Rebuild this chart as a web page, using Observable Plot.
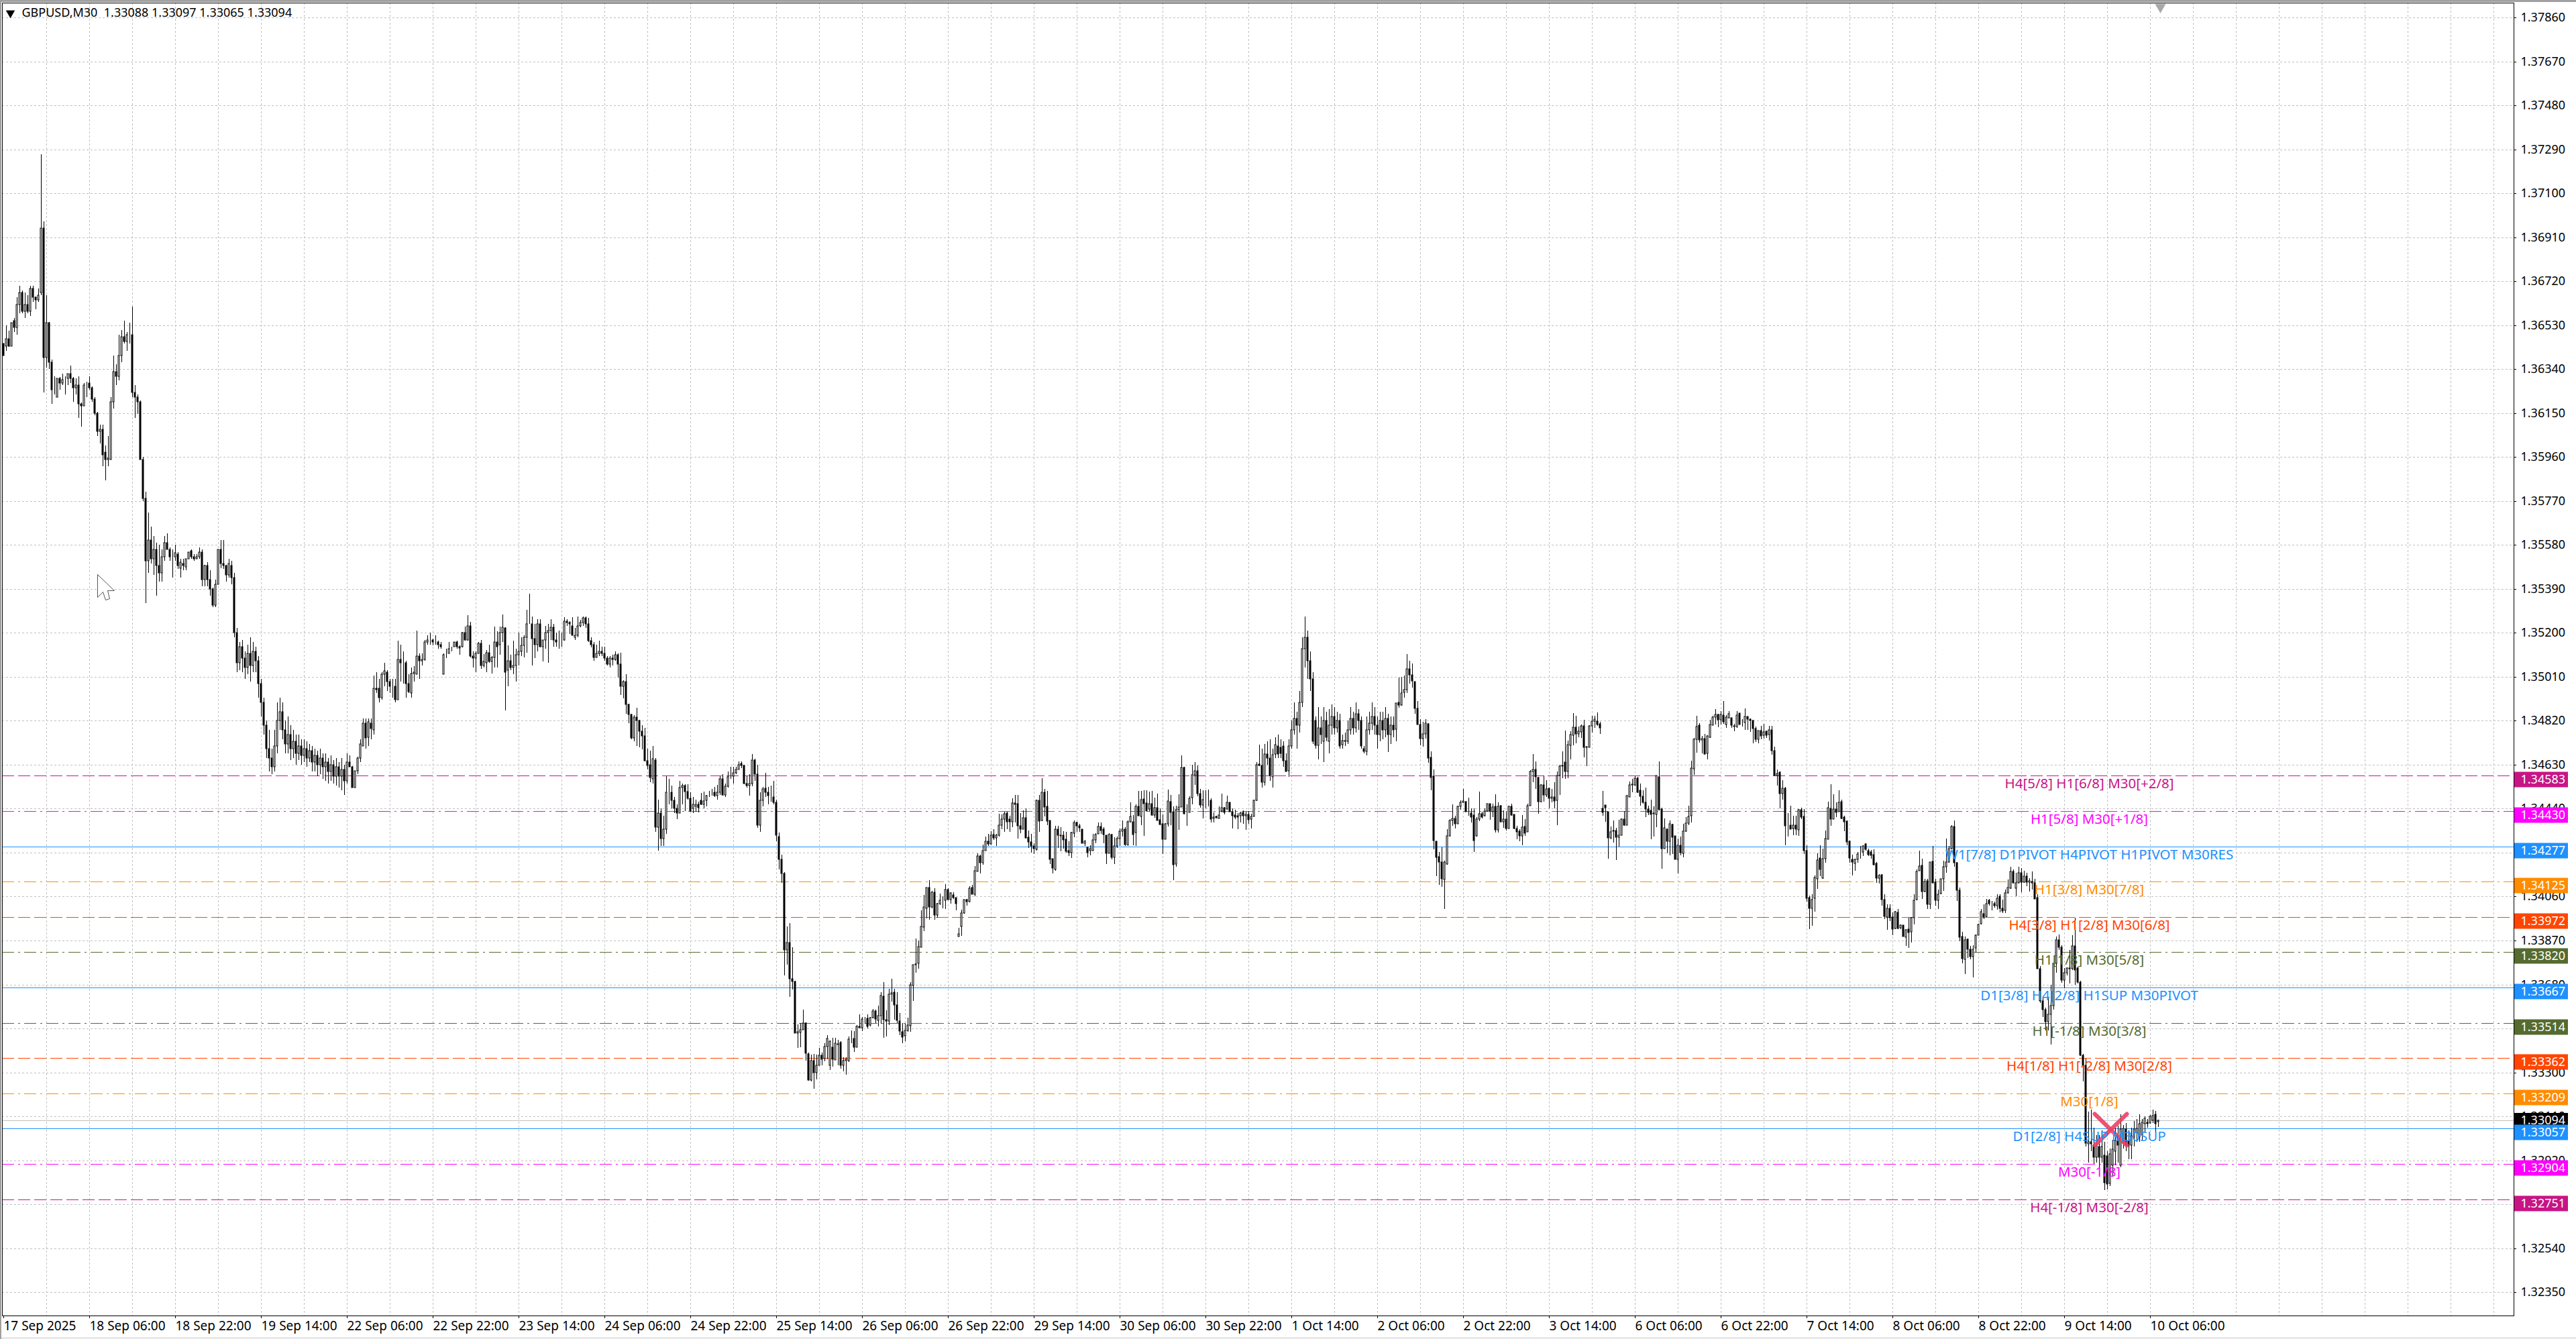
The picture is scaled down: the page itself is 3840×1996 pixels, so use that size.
<!DOCTYPE html>
<html><head><meta charset="utf-8">
<script src="https://cdn.jsdelivr.net/npm/d3@7"></script>
<script src="https://cdn.jsdelivr.net/npm/@observablehq/plot@0.6"></script>
<style>
html,body{margin:0;padding:0;overflow:hidden;width:3840px;height:1996px;
background:linear-gradient(#a0a0a0,#a0a0a0) 0 0/100% 3px no-repeat,linear-gradient(#a0a0a0,#a0a0a0) 0 0/2px 100% no-repeat,linear-gradient(#e8e8e8,#e8e8e8) 0 100%/100% 3px no-repeat,#fff}
svg{display:block}
</style></head><body>
<script>
// Bars as [open, high, low, close], in pips above basePrice
const basePrice = 1.3;
const barsPart1 = [[645,645,640,640],[644,653,642,647],[647,650.5,643.6,644],[644,654,644,654],[655,656,650,652],[652,665,649,662],[662,670,658,667],[667,668,658,659],[659,667,656,662],[662,666,658,659],[659,670,657,669],[669,670,663,665],[665,665.5,660,664],[664,669,663,666],[667,727,666,695],[695,698,624,639],[639,666,634.6,654],[654,654.5,634,637],[637,638,619,625],[625,631,623,625],[622,630,622,630],[630,630.5,625,628],[628,632,627,629.5],[629,631,623,629],[630,632,627,632],[632,635.6,628,630],[630,630.5,620,626],[626,630,623,627],[627,631,613,619],[619,619.5,609,618],[618,628,618,627],[628,628.5,622,628],[628,631,625,626],[626,626.5,620,621],[621,622,614,615],[615,615.5,605,607],[607,610,602,608],[608,610,592,597],[598,601,586,595],[595,605,592,595.5],[595,622,595,620],[620,640,617,633],[633,636,627,631],[631,649,629,640],[640,651,637,648],[648,655,645,646],[646,650,642,649],[649,654,645,649],[649,661,622,624],[624,627,613,622],[622,623,614.5,620],[620,620.5,595,595],[595,596,577,578],[578,581,533,551],[551,572,546,560],[560,566,550,552],[552,562,545,556],[556,559,536,549],[549,558,542,546],[546,556,542,553],[553,562,551,559],[559,563,556,556],[556,557,551,553],[553,556,544,553],[553,558,551,554.5],[554,555,547.6,549],[548,552,544,550.5],[550,552,547,549],[548.5,552,547,552],[552,555,552,555],[555.5,556,552,553],[553,554,551,552],[552,554,552,553],[553,557,552,555],[555,556,540,543],[543,549.5,540,549],[549,550.6,540,543],[543,547,536,539],[539,539.5,531,532],[532,543,531,541],[541,556,541,556],[556,560,548,550],[550,560,547.6,549],[549,549.5,542,545],[545,552,544,550],[549,551,541,544],[544,546,518,520],[520,522,503,507],[507,516,504,514],[514,517,503,509],[509,512,500,505],[505,515,502,511],[511,518,499,506],[506,516,503,512],[512,514,503,508],[508,510,492,498],[498,500,484,490],[490,492,476,480],[480,482,466,470],[470,478,460,466],[466,470,459,462],[462,478,460,471],[471,490,468,482],[482,492,478,486],[486,490,474,478],[478,482,468,472],[472,484,468,476],[476,480,465,470],[470,478,466,473],[473,476,463,468],[468,476,465,471],[471,474,463,467],[467,474,464,470],[470,473,462,466],[466,472,464,469],[469,471,460,464],[464,470,460,467],[467,469,458,463],[463,470,459,466],[466,468,457,462],[462,468,456,464],[464,466,455,460],[460,467,456,463],[463,465,455,458],[458,466,454,462],[462,464,453,458],[458,466,452,461],[461,463,450,456],[456,468,455,464]];
const barsPart2 = [[464,467,462,462],[462,462.5,453,453],[453,460.5,453,460.5],[460.5,466.5,459,466],[466,474,464,472],[471,483,471,481],[481,483,470,474.5],[475,483,471,481.5],[481,483,474,478.5],[478,501.6,476,496],[496,503,494,495.5],[496,500,490,492],[492,503,491,502],[502,507,497,503.5],[503,504,495,499],[499,500,494,497],[497,500,492,497],[497,500,490,491],[491,516.5,491,508.5],[508.5,515,499,507],[507,512,498,507],[507,508,492,498],[498,502,494,494.5],[494,505,492,502.5],[502.5,505.7,499,503],[502,521,502,510],[510,511,500,508],[508,511,506,508.5],[508.5,517,508,516],[516,519,515,517],[517,520,515,517],[517,517.5,514.6,516],[516,519,515,516],[516,516.5,513,515],[515,516,513,514],[502,511,502,510.5],[510.5,513,509,510.5],[511,516,511,513],[513,514,512,513],[514,516,514,516],[516,516.5,513,514],[514,514.5,510.5,513.5],[514,520.5,513.6,520],[520,522.6,516.5,517],[517,527.5,516.5,523],[523,524.6,509.5,510],[510,512,505,509],[509,512,503,511],[511,516,511,515.5],[515.5,517,504.4,506],[506,510.7,505,507.5],[507,512.5,503,511.5],[511.5,515,507,507.5],[507.5,510,502.5,509.5],[509.5,522.6,505,516],[516,520.7,505,514],[515,522.8,510.5,520],[520,528,516,522.5],[522,522.5,486.6,503],[504,514.6,497,508],[508,510.5,504,505],[505,516.5,502,506],[506,513,499,510.5],[510.5,520,506,512],[512,518,510,514.5],[514.5,519,509.5,518],[518,530,511.5,524],[524,537,524,524],[524,527,506,517.5],[517.5,524,509,515],[515,526,512,524],[524,526,513.6,514],[514,517,507.5,517],[517,523,513,520],[520,524,507,521],[521,526,517,522.5],[522.5,524,514,517],[517,520,514,516],[516,521,513,516],[517,520,514,517],[517,526.7,516.5,525],[525,526,523,524.5],[524.5,525,519.5,524],[523,526.8,519,519],[518,522,517,519],[519,527,518,523],[523,525.5,522.5,524.5],[524.5,527,523,526.5],[526.5,527,522,524],[524,526.5,516,516.5],[516.5,518,513.6,515],[515,516,508,509.5],[509.5,515,509.5,511],[511,516.5,510,512],[512,514,510,511],[511,514,508,509],[509,510,506,506.5],[506.5,510,505,509],[509,510.5,506,508.5],[508.5,512,508,510.5],[510.5,511,500.6,506.5],[506.5,511.5,493,497],[497,499.6,491.6,499],[499,502,485,489],[489,489.5,481,484.6],[484.6,485,474,474.5],[474.5,484.4,473,483.5],[483.5,487.7,471,482],[482,482.5,470.6,477.6],[477.6,480,469.7,475.5],[475.5,479,464.5,464.6],[464.6,470,461,462.6],[463,469,455.4,457.5],[457,471,455,465.6],[465,466,434,436],[436,448,426,442],[442,444,428,431],[431,441,428,435],[435,458,433,451],[451,457,446,451],[451,454,444,447.5],[447.5,449,442,444],[444,446,439.5,442],[442,456,442,453],[453,455,446,454],[454,454.5,443,451.5],[451.5,454.7,448,448.5],[448.5,451,442.6,443],[444,449,442,446],[445,448,442.6,446]];
const barsPart3 = [[446,447,442.4,444.5],[447.7,450.7,445.7,446],[446,451.5,444,447.4],[447.5,450,445,449.6],[450,451.7,449,450],[451,452.6,449.6,451],[451,453.5,449,449.5],[449.6,454.4,448,451],[451,458,450,457],[457,459,449.5,450],[450,455,449,453.7],[453.7,460,453,457.8],[458,462,457,458],[458,462,455,459.5],[459.5,462,459,461],[461,464.3,461,463],[463.6,464.5,461.5,462.6],[462.8,463,454.7,455],[455,458,453,454],[454,459,449.5,455],[455,467.5,453.6,465],[465,465.5,456,459],[459,463,435.8,437],[437,451,434,447.6],[447.6,453.5,445,452.4],[452.7,459.5,449,451],[451,453.5,446,449.5],[449.6,454,447,449.6],[449,456,446,446.6],[446.6,448,430,432.4],[432,433.6,417.8,422],[422,424,412,416],[416,416.5,372,383],[383,393,376.5,386],[386,394.5,362.7,370.6],[370.6,384,365.7,369.4],[369.4,369.6,347,347],[347,350.7,340.6,347.5],[347.4,351.4,341,348.4],[348.4,357,348.4,351.4],[351.4,351.5,335,338.4],[338,338.5,326.3,326.8],[326.6,337.6,326,335],[335,338,323,330],[330,337.6,327,333],[333,340.6,333,337.4],[337.4,338.6,333,335.8],[336,342.5,334.7,341.3],[341.3,346,335.7,344.7],[333,343.8,331,343.5],[341,345,332.5,335.7],[335.5,345,335.5,342.5],[342.4,344,333,342],[343,343.5,331.7,333],[333,336.6,330.4,335],[335,336.6,329,335.7],[335,345.5,334.4,344.4],[344.7,348,342.5,344.7],[344.8,347.8,339,341],[341,350.6,341,350],[350,355.2,349.4,349.4],[349.2,353.9,347.8,353.2],[353.6,354,351,353.6],[353.4,355.2,349,350],[350.4,354,350,353.6],[353.6,357.3,353.4,356.6],[356.6,357,351.4,353.2],[352.6,358.8,350,354.6],[354.6,364.7,351,363.2],[363,369,345,352.9],[352.9,356.8,345.5,352.2],[352.2,366,350.4,363.9],[363.9,370.6,360.7,364.5],[364.7,366,352.9,359.3],[359.3,364.7,351.4,352.6],[352.2,355.6,346,347.8],[347.7,351.4,342.5,345.3],[345.8,351,343.5,348.2],[348,353.6,347.5,350.4],[350.3,369,347.5,368],[367.6,376.7,361,376.7],[376.9,388,373,376.5],[377,387,374.7,384.3],[384,400,384,393],[392.7,406.8,391,401.4],[401,410,396.6,410],[410,413,396,401.5],[401.5,408.6,401,408],[408,409.7,396,398],[398,403.2,397,403],[403,407.4,402.5,404.3],[404.5,406,401,404.5],[404.3,411.4,400.6,409],[409,409.7,404.5,404.7],[404.8,408,403,407.6],[406.8,408,405,405.5],[405.5,405.5,400,403],[388.8,392.4,388.8,390],[393,400.3,389,399],[399,404.8,398.6,404.6],[404.7,405,402,403.7],[403.8,410.4,403.5,409.5],[410,411,407,407],[407,419.2,406,417.3],[417,424.8,417,423.5],[423.5,424,416,420.5],[420.5,428.6,419.7,426],[426,432,426,430],[430,433,428,428.8],[428.9,434.3,428.5,432.5],[432.8,435,430.5,431.5],[431.5,433,428,432.5],[432.5,441.7,432,437],[437,441.4,435,439.6],[439.4,442.8,434,441.8],[442,442.8,435,438.2],[439.6,441,434,438.2],[438.4,448.6,436,446.5],[446.5,450,438,446],[446.3,450,431,436.5],[436.6,442,433.5,435],[435.2,443.3,435,440],[440,444,431,431.5],[431.7,434.5,427,429.6],[429.6,433,425,428],[427.8,429,424.4,426.6],[426.3,447.8,425.8,447.6],[447.6,450,434,438.7],[438.9,457.3,438.7,451],[451.2,452.4,440.6,444.6]];
const barsPart4 = [[445,451.7,437,438.5],[438.9,438.9,420,422.1],[422.4,422.4,416,418.3],[417.8,436.5,417.3,435.2],[435.2,436.5,427,432.4],[432.6,436,425.5,432.1],[432.6,434.2,426.8,430.4],[430.9,434,424.9,425.6],[426,430,423.4,424.9],[424.9,434,422.7,433.8],[433.3,439,431.6,438.1],[438,438.4,433.9,436.5],[436.7,437.4,433.9,435.8],[435.2,435.2,429,429],[429,430.6,428,429.8],[427.3,427.6,423,425],[425.8,428.2,423.7,426.8],[425.8,433,425.8,430.4],[430.4,433.3,429,432.9],[433,437.9,433,436.3],[436.3,437.9,433,434.5],[435.2,436,429,432.8],[432.5,432.5,420,424.6],[424.6,433.3,424.6,432.8],[432.8,433,422.2,423.1],[423.1,431.6,420.2,427.8],[427.8,432,427,431.2],[431.2,435.5,428,434.3],[434.4,439,432,435.2],[435.2,436,428,428.4],[428.6,439,428,438.4],[438.4,446.8,438,440.6],[438.3,441.3,428.2,432.9],[433.6,446,428,445],[445,451.7,440.8,440.8],[440.6,451.7,437,448],[448.3,452,432.1,446.3],[446.4,452,443,443],[443.7,451.5,442.8,446.2],[446.2,451.7,440.8,441.3],[441.3,448.8,440,444.4],[444.4,450.5,438.9,439],[439.3,444,437,437.3],[437.4,441.6,424.4,430.9],[430.7,437.7,430.7,437.4],[437.4,452.3,436.2,447.3],[447.1,450,437,442.3],[442.8,445,413,419.8],[420,445.3,419,443.6],[443.6,450.3,434.8,444.7],[444.7,467,444.7,461.8],[461.8,462,441.5,441.8],[442.3,446,436.5,442.3],[442.5,449.3,442.5,448.4],[448.8,462.9,446,458.6],[458.7,464,454.2,460.4],[460.4,462.6,449.3,450.5],[450.5,452.4,444.5,445.5],[445.5,452,439.9,448],[448.6,452,444,448.4],[448.6,452.3,445,448.6],[447.7,448.4,438,439.4],[439.7,442.3,438,440.4],[440.7,441,439.8,440.2],[439.7,445,439.7,441.3],[442.9,450.5,442.3,444.4],[444.4,444.7,441.6,442.5],[443.7,449.7,443.5,446.6],[446.8,446.8,442.6,442.8],[442.8,444,435.5,441],[441.3,443.5,439.4,440.5],[441,442,435,440.5],[440.8,442.6,438.1,442.2],[442.3,443.3,437.4,440.8],[440.8,442.8,434.8,441.5],[441.6,443,437.4,439.1],[439.4,441.8,435.3,440.6],[440.6,447.8,440.6,447.6],[447.6,464,447.4,462.9],[463.3,471.8,462.3,462.6],[462.8,470,453,455.5],[455.3,472,454,467.6],[467.7,473,463,465.8],[466,474,456,458.3],[457.8,470,453,467.4],[467.7,475,466,471.6],[471,476,466,467.6],[470.6,474,466,468],[471,473,462,464.7],[464.7,468,460,460.2],[460.4,474,457.8,471.2],[471,482,470,478],[478,490,476,483],[483,486,470,480],[480,495,477,490],[490,518,488,513],[513,527,505,518],[518,521,500,508],[508,512,495,500],[500,503,472,473],[482,484,470,471.5],[471.5,488,465.3,479],[479,484,472,476],[473,488,464,482],[482,486,473,475],[473,487,468,480],[480,489,476,484],[484,488,476,479],[479,486,477,482],[482,485,470,471],[471.6,476,470,473.3],[473,477,471,473.5],[473,482,472,478],[478,488,476,483],[483,486,476,479],[479,490,477,485],[485,487,478,482],[482,484,470,471],[470,471,468,468.7],[468.7,484,467,478],[478,486,476,481],[481,490,478,484],[484,488,476,480],[480,484,470,476],[476,486,473,482],[482,486,474,478],[478,488,475,483],[483,485,468.4,476],[476,484,472,480],[480,484,475,478]];
const barsPart5 = [[478.3,489.7,473,489.7],[490,500.8,487.5,488.7],[488.7,501,488.5,494],[494.3,501.6,492,495.5],[495.5,510.7,494,504.5],[504.5,508,498,501.8],[501.8,506.7,496.2,499.2],[499,499,485,487.3],[487.3,490.4,480.3,480.3],[480.3,482.7,471.3,474.2],[474.2,481.5,470.8,476.2],[476.2,482.7,474.2,481],[480.8,481,463.9,465.8],[466.2,468.9,451.9,457.5],[458,461,426.3,430.2],[429.9,430,414.7,422.9],[423.2,425.3,411,420.8],[421,427.3,410.3,413.7],[413.5,421.5,400.5,421],[420.2,435,419.7,432.1],[432.1,439.4,431.9,438.9],[438.9,446,436.5,439.8],[439.9,440.8,435.5,437.6],[437.6,445.4,437.6,445.1],[445.1,447.6,443.5,446.6],[446.6,452.4,446.4,447.4],[447,447.4,442.6,442.8],[442.3,448.8,440.8,442.3],[442,444,438,440.5],[441.3,444,425.2,430.2],[432.1,440.3,431.9,439.6],[439.6,451.5,438.7,441.8],[441.8,442.8,439.7,440.5],[440.8,444,440.6,443],[443,446.2,442.8,446.2],[446.2,446.2,439.1,443],[442.8,446.2,440.5,444.7],[444.9,450.3,433.6,434.8],[434.9,446.8,433.8,445],[445.2,445.7,438.1,438.4],[438.4,443.3,435.8,439.6],[439.6,443,434.5,435.5],[435.5,445.4,435.5,444.9],[444.9,446.2,440.8,441.3],[441.5,441.5,435,435.3],[435.5,436.5,430.9,434],[434.2,435,430,432.3],[432.3,441.3,428.2,436],[436.3,439.4,432.3,433.3],[434,446.2,434,445.2],[445.2,460.7,445.2,460.2],[460.2,467.7,455.4,461],[461,464.5,452.6,457.8],[457.5,457.8,441.8,447.1],[447.1,454.6,446.8,454.2],[454.2,458.3,447.1,449.8],[449.8,456.3,449,452.6],[452.7,453,444.2,448.4],[448.4,452.4,446.6,449.1],[449.1,455.4,444,447.3],[447.6,460.2,436.8,458.4],[458.4,463,450,462.4],[462.4,468.9,457.3,462.7],[464,477.9,456.8,460.2],[460.2,473.3,457.3,471.6],[471.3,477.4,465.2,476],[475.7,485.2,471.3,479.3],[479.1,484.2,472.3,476.2],[476.2,479.6,475,477.4],[477.1,480.5,474.5,479.8],[479.8,482.5,466.3,470.6],[470.8,470.8,462.3,470.4],[470.6,480,470.4,479.8],[479.8,484.2,476.8,481.8],[481.8,484.2,479,482.7],[481.7,485.7,479.7,480.5],[480.8,481.5,476.4,479],[444,451.7,440.8,442.3],[445.5,445.5,438.4,444.5],[442.8,442.8,422.4,431.4],[431.4,436.2,430.7,434],[434.7,438.9,429.4,434.3],[434.5,435.7,421.7,431.6],[431.6,439.1,427.5,432.6],[432.6,439.9,432.4,439.6],[439.4,443,436.5,436.8],[436.8,450,436.8,449.7],[449.2,455.8,449,454.4],[454.6,456.8,451,454.2],[454.4,458,453.6,457.3],[457.3,457.8,450.7,451.2],[452,454.9,445.2,449.3],[449.4,452,446.2,446.6],[446.8,453,440.3,443.7],[443.9,445.2,441.3,442.3],[443.2,447.9,430.7,441.6],[442.1,445,432,441.7],[441.5,458.3,436,458.3],[457.8,464.5,443.2,443.5],[443.9,444.5,417.9,426.8],[426.8,439.7,426.8,435.7],[435.2,435.5,424.6,429.9],[429.9,439,423.9,437.4],[437.3,437.6,424.4,431.8],[432.3,432.3,422.1,422.1],[422.1,431,416,428.2],[428.1,431.9,423.9,424.9],[424.6,437.4,423.1,434.2],[434.2,440.3,434,437.7],[437.7,445.2,436.8,440.6],[440.8,464.8,437.9,461.4],[461.2,474.7,458.5,474],[474,484.2,468.1,479.6],[480.1,481,472.6,473.6],[473.6,475.5,468,474.2],[474.3,476.4,467.2,467.5],[467.9,475.7,465.2,475.5],[475,482.5,474.7,480.3],[480.2,484.2,480,483.6],[483.6,487.1,480.5,484.7],[484.7,484.9,479.3,482.3],[482.3,486.3,480.5,484.6],[484.4,490.4,480.8,481.5],[480.3,484.4,479,483.6],[483.2,486.3,482.9,484.9],[483.3,483.4,479,480],[479.9,480.7,477.4,479.6],[479.6,486.3,479,484.5],[485.2,485.4,480.5,480.5],[481.9,482.7,479.4,481.9]];
const barsPart6 = [[481.3,487.3,478.2,483.9],[483.9,484,478.2,482.6],[482.6,483,477.3,482.1],[482.1,482.3,472.4,478.7],[478.7,479.6,472.7,473.9],[473.9,477.7,472.4,477.7],[477.7,479.7,474.1,475.5],[475.7,480.7,474.4,477.3],[477.5,477.8,474.6,475.8],[476,479.9,473.4,478.2],[478.2,479.9,467.3,469.1],[469,470.7,458.2,458.4],[458.4,460.9,454.1,459.3],[459.8,460,444.2,450.5],[450.6,456.2,448,452.9],[452.9,453.3,428.1,436.5],[436.7,442.2,431.9,436.5],[437,445.3,435,435.2],[435.3,440.8,432.6,437],[437,441,432.6,435],[434.8,443.7,432.3,443.5],[443.5,444.5,439.4,440.5],[440.6,443.7,424.4,425.8],[425.8,428.1,403.9,405.3],[405.6,406.5,391.9,400.9],[400.9,407,393.5,404.6],[405.3,415,399.5,414.3],[413.8,424.8,409.4,421.8],[422.7,428.3,414.9,417.6],[414,426.8,413.8,422.5],[422.5,434.5,420.5,431],[430.7,446.9,430.7,444.4],[444.2,454.5,436.5,439.5],[439.5,450.3,439.4,443.9],[443.9,446.6,440.5,442.5],[442.7,451.9,442.7,446.8],[447.1,448,439.6,439.8],[440.3,441,434.3,438.4],[438.7,438.9,428.3,429.7],[429.9,430.2,420.7,422.7],[422,424.1,415.2,421],[420.3,422.4,417.1,422.2],[422,425.4,420.5,424.4],[425.5,427.8,422.3,425.5],[425.2,428.3,423.6,427.8],[428.7,429,425.9,426.5],[425.8,426.8,423.6,424.1],[425.4,426.2,422.3,423.7],[424.1,426.3,419.4,419.9],[420.3,421,411.8,414],[414,415.7,411.6,415],[415.4,415.7,402.2,404.8],[404.6,407,396.4,397.4],[397.2,402.7,391.6,401],[401,402.7,395.4,396.9],[397.2,399.3,389.2,392],[392.3,399.8,391.9,399.5],[399.3,400.7,391.9,392.3],[392.5,394,391.9,393.7],[393.7,393.8,388.7,388.7],[388.5,392,384.6,391.7],[392,396.9,383.8,390.4],[390.8,397.2,386,396.9],[396.9,407,394,404.4],[404.6,417.6,404.3,416.9],[417.2,425.8,417.1,419.3],[419.4,422.5,405.1,408.2],[408.2,413.6,407.8,412.6],[412.8,413.6,400.7,402.7],[402.7,421,400.5,421],[421.3,427.8,411.6,411.8],[412.1,413.6,402.2,404.3],[404.3,409,400.5,407],[407.2,413.8,407,413.6],[413.6,421.5,408.5,419],[418.9,431,416.2,421],[421,427.8,420.7,426.8],[426.8,437,426.3,436.2],[436.3,439,419,420.7],[420.7,421,404.1,408.8],[408.8,409.9,386.8,388.5],[388.7,390.8,377.1,379.3],[379,388.7,372.5,387.4],[387.7,387.9,379.5,383.1],[383.1,384.8,378.8,380],[380,384.9,371,383.2],[383.7,389.7,381.9,389.4],[389.4,394.3,389.2,394],[394.3,400.7,394,399.5],[398.6,402.7,396.4,397.2],[397.4,405,397.2,403],[404.3,405,402.2,403],[403.2,404.1,400.1,403.2],[403,403.7,401.1,402],[402,407,400.3,405.3],[406.2,407,399.3,400.9],[400.9,404.6,398.8,399.9],[400,409,398.8,407.7],[407.5,413.3,407.2,409.9],[409.6,418.9,409.4,416.9],[416.9,417.6,411.6,411.8],[409.6,416.2,406,411.8],[411.8,418.9,411.6,416.4],[416.4,418.4,408,412.3],[412.3,417.1,412,414.9],[414.7,416.2,410.4,412.3],[412.3,414,408.2,412.8],[412.6,417,409.1,412],[412,413.8,404.9,405.1],[405.6,407,374.7,374.7],[374.7,376,360,361],[361,362.5,354,357],[357,358,348,352],[352,362,348,355],[355,368,342,359],[359,376.5,357,377],[377,388.7,373,387.4],[387.4,389.7,383,384],[384,385,368.6,369.8],[369.8,375,366.5,373],[373,375.4,372,375.2],[375.2,383,368.4,374.7],[374.7,389.2,374.3,384.8],[384.8,397,368,374.2],[375.2,375.6,368.5,368.9],[369,369.5,337,337.5],[337.5,338,326,333],[333,336,298,299.5],[299,313,291,300],[300,314,296,299],[298.6,306,290.4,293.3],[293.3,303,291,298.2],[298,303,289,293.3],[293.3,305,291,298],[294.3,300,279,282.2],[294,296,279.5,281.8],[282,297,280.8,294.8],[290,301,285,296.7],[296,306,290,300.6],[302.5,307,291,298.6],[290,312,288.9,305.4],[299.6,307.4,297,305.9],[305.4,308,296,298.6],[300.6,305,292.6,298.2],[298.6,306,292.6,302.5],[302,309,298,305.4],[304,310,300,305.9],[302,312,300,307.8],[303,310,301,308.3],[307.8,311,304,310.2],[308.3,309.8,306,307.8],[308,311.5,307.8,310.9],[309.3,313.8,308,311.2],[312,313.4,304,307.8],[308.8,309.7,306.5,309.4]];

const priceTicks = [1.3786,1.3767,1.3748,1.3729,1.371,1.3691,1.3672,1.3653,1.3634,1.3615,1.3596,1.3577,1.3558,1.3539,1.352,1.3501,1.3482,1.3463,1.3444,1.3425,1.3406,1.3387,1.3368,1.3349,1.333,1.3311,1.3292,1.3273,1.3254,1.3235];
const timeLabels = ["17 Sep 2025","18 Sep 06:00","18 Sep 22:00","19 Sep 14:00","22 Sep 06:00","22 Sep 22:00","23 Sep 14:00","24 Sep 06:00","24 Sep 22:00","25 Sep 14:00","26 Sep 06:00","26 Sep 22:00","29 Sep 14:00","30 Sep 06:00","30 Sep 22:00","1 Oct 14:00","2 Oct 06:00","2 Oct 22:00","3 Oct 14:00","6 Oct 06:00","6 Oct 22:00","7 Oct 14:00","8 Oct 06:00","8 Oct 22:00","9 Oct 14:00","10 Oct 06:00"];
const levelPrices = [1.34583,1.3443,1.34277,1.34125,1.33972,1.3382,1.33667,1.33514,1.33362,1.33209,1.33057,1.32904,1.32751];
const levelColors = ["#c71585","#ff00ff","#1e90ff","#ff8c00","#ff4500","#556b2f","#1e90ff","#556b2f","#ff4500","#ff8c00","#1e90ff","#ff00ff","#c71585"];
const levelDashes = ["18,6","18,6,3,6","none","18,6,3,6","18,6","18,6,3,6","none","18,6,3,6","18,6","18,6,3,6","none","18,6,3,6","18,6"];
const levelTags = ["H4[5/8] H1[6/8] M30[+2/8]","H1[5/8] M30[+1/8]","W1[7/8] D1PIVOT H4PIVOT H1PIVOT M30RES","H1[3/8] M30[7/8]","H4[3/8] H1[2/8] M30[6/8]","H1[1/8] M30[5/8]","D1[3/8] H4[2/8] H1SUP M30PIVOT","H1[-1/8] M30[3/8]","H4[1/8] H1[-2/8] M30[2/8]","M30[1/8]","D1[2/8] H4SUP M30SUP","M30[-1/8]","H4[-1/8] M30[-2/8]"];
const bidPrice = 1.33094;
const headerText = "GBPUSD,M30  1.33088 1.33097 1.33065 1.33094";
const crossIdx = [779.25,791.25];
const crossPips = [312.2,298.6];
const cursorIdx = [35,41.25,38.75,39.5,38,37,35,35];
const cursorPips = [545.4,538.4,538.4,534.9,534.4,537.8,535.5,545.4];

const P = u => basePrice + u/1e4;
const rows = [...barsPart1,...barsPart2,...barsPart3,...barsPart4,...barsPart5,...barsPart6]
  .map(([o,h,l,c],i)=>({i,o:P(o),h:P(Math.max(h,o,c)),l:P(Math.min(l,o,c)),c:P(c)}));
const levels = levelPrices.map((price,k)=>({price,color:levelColors[k],dash:levelDashes[k],tag:levelTags[k]}));
const fmt = d3.format(".5f");
const gridIdx = d3.range(16,929,16);
const labelIdx = timeLabels.map((_,k)=>k*32);
const font = '"Noto Sans",sans-serif';
const boxX1 = 935.75, boxX2 = 955.75, boxTextX = 938, tagX = 777.25;
const levelMarks = levelDashes.map((dash,k)=>Plot.ruleY([levels[k]],{y:"price",stroke:"color",strokeWidth:1,strokeDasharray:dash}));
const chart = Plot.plot({
  width:3840,height:1996,marginLeft:3,marginRight:93,marginTop:4,marginBottom:35,
  style:{background:"transparent",fontFamily:font,fontSize:"17px",color:"#000"},
  x:{type:"linear",domain:[-0.5,935.5],round:true},
  y:{type:"linear",domain:[1.32249,1.37924],round:true},
  marks:[
    Plot.gridX(gridIdx,{stroke:"#c0c0c0",strokeOpacity:1,strokeDasharray:"3,3"}),
    Plot.gridY(priceTicks,{stroke:"#c0c0c0",strokeOpacity:1,strokeDasharray:"3,3"}),
    Plot.axisY(priceTicks,{anchor:"right",tickSize:3,tickPadding:7,tickFormat:fmt,fontSize:18,label:null,stroke:"#000"}),
    Plot.axisX(labelIdx,{anchor:"bottom",tickSize:4,tickPadding:4,tickFormat:(d)=>timeLabels[d/32],textAnchor:"start",fontSize:19,label:null,stroke:"#000"}),
    Plot.ruleY([bidPrice],{stroke:"#c0c0c0",strokeWidth:1}),
    ...levelMarks,
    Plot.ruleX(rows,{x:"i",y1:"l",y2:"h",stroke:"#000",strokeWidth:1}),
    Plot.rect(rows.filter(d=>d.c>=d.o),{x1:d=>d.i-0.25,x2:d=>d.i+0.25,y1:"o",y2:"c",fill:"#fff",stroke:"#000",strokeWidth:1}),
    Plot.rect(rows.filter(d=>d.c<d.o),{x1:d=>d.i-0.25,x2:d=>d.i+0.25,y1:"o",y2:"c",fill:"#000",stroke:"#000",strokeWidth:1}),
    Plot.link([0],{x1:()=>crossIdx[0],y1:()=>P(crossPips[0]),x2:()=>crossIdx[1],y2:()=>P(crossPips[1]),stroke:"#ec4064",strokeWidth:6,strokeLinecap:"round",strokeOpacity:0.9}),
    Plot.link([0],{x1:()=>crossIdx[1],y1:()=>P(crossPips[0]),x2:()=>crossIdx[0],y2:()=>P(crossPips[1]),stroke:"#ec4064",strokeWidth:6,strokeLinecap:"round",strokeOpacity:0.9}),
    Plot.text(levels,{x:()=>tagX,y:"price",text:"tag",fill:"color",dy:12,textAnchor:"middle",fontSize:20.5}),
    Plot.ruleY([bidPrice],{x1:()=>boxX1,x2:()=>boxX2,stroke:"#000",strokeWidth:23}),
    Plot.text([bidPrice],{x:()=>boxTextX,y:d=>d,text:d=>fmt(d),fill:"#fff",textAnchor:"start",fontSize:18}),
    Plot.ruleY(levels,{x1:()=>boxX1,x2:()=>boxX2,y:"price",stroke:"color",strokeWidth:23,dy:5.5}),
    Plot.text(levels,{x:()=>boxTextX,y:"price",text:d=>fmt(d.price),fill:"#fff",textAnchor:"start",fontSize:18,dy:5.5}),
    Plot.frame({stroke:"#000",strokeWidth:1}),
    Plot.line(cursorIdx.map((x,k)=>({x,y:P(cursorPips[k])})),{x:"x",y:"y",stroke:"#555",fill:"#fff",strokeWidth:1,curve:"linear"}),
    Plot.text([headerText],{x:()=>6.75,y:()=>P(788.1),text:d=>d,fill:"#000",textAnchor:"start",fontSize:18}),
    Plot.dot([0],{x:()=>2.5,y:()=>P(788.1),symbol:"triangle",rotate:180,r:5,fill:"#000",stroke:"none"}),
    Plot.dot([0],{x:()=>803.75,y:()=>P(790.6),symbol:"triangle",rotate:180,r:6,fill:"#a8a8a8",stroke:"none"})
  ]
});
document.body.appendChild(chart);
</script>
</body></html>
